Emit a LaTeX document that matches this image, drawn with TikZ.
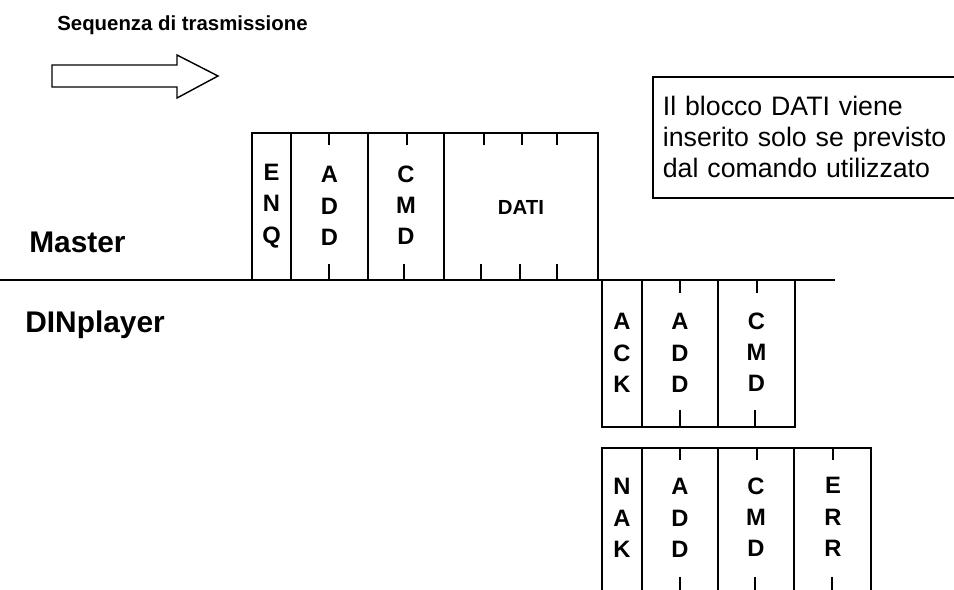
\documentclass[tikz,border=0pt]{standalone}
\usepackage{fontspec}
\setmainfont{Liberation Sans}
\usetikzlibrary{positioning}

\begin{document}
\begin{tikzpicture}[x=0.02cm,y=-0.02cm,
  fld/.style={line width=1.1pt},
  lett/.style={font=\bfseries\fontsize{13.5}{17.8}\selectfont,align=center,inner sep=0pt},
  side/.style={font=\bfseries\fontsize{17}{20}\selectfont,anchor=base west,inner sep=0pt},
  note/.style={draw,line width=1pt,anchor=north west,align=left,
    font=\fontsize{15.2}{17.6}\selectfont,text width=6cm,inner xsep=0.2cm,
    minimum height=2.42cm}
]
\clip (0,0) rectangle (954,589);

% direction of transmission
\node[anchor=base west,inner sep=0pt,font=\bfseries\fontsize{11.6}{14}\selectfont]
  (title) at (57,30) {Sequenza di trasmissione};
\draw[line width=0.8pt] (52,65) -- (177,65) -- (177,55) -- (218,76)
  -- (177,98) -- (177,87) -- (52,87) -- cycle;

% bus line between the two sides
\draw[fld] (0,280) -- (835,280);
\node[side] (master) at (29,252) {Master};
\node[side] (dinp) at (25,332) {DINplayer};

% master frame
\draw[fld] (252,133) rectangle (598,280);
\foreach \x in {291,368,444} \draw[fld] (\x,133) -- (\x,280);
\foreach \x in {329,407,484,522,557} \draw[fld] (\x,133) -- (\x,145);
\foreach \x in {329,404,481,520,557} \draw[fld] (\x,264) -- (\x,280);
\node[lett] (enq) at (271.5,206) {E\\N\\Q};
\node[lett] (add1) at (329.5,206) {A\\D\\D};
\node[lett] (cmd1) at (406,205) {C\\M\\D};
\node[lett,font=\bfseries\fontsize{11.6}{14}\selectfont] (dati) at (521,207) {DATI};

% answer: ACK
\draw[fld] (602,280) rectangle (795,427);
\foreach \x in {642,718} \draw[fld] (\x,280) -- (\x,427);
\foreach \x in {680,757} \draw[fld] (\x,280) -- (\x,293);
\foreach \x in {680,755} \draw[fld] (\x,410) -- (\x,427);
\node[lett] (ack) at (622,353) {A\\C\\K};
\node[lett] (add2) at (680,353) {A\\D\\D};
\node[lett] (cmd2) at (756.5,352) {C\\M\\D};

% answer: NAK
\draw[fld] (602,448) rectangle (871,594);
\foreach \x in {642,718,794} \draw[fld] (\x,448) -- (\x,594);
\foreach \x in {680,757,833} \draw[fld] (\x,448) -- (\x,460);
\foreach \x in {680,755,832} \draw[fld] (\x,577) -- (\x,594);
\node[lett] (nak) at (622,518) {N\\A\\K};
\node[lett] (add3) at (680,518) {A\\D\\D};
\node[lett] (cmd3) at (756,517) {C\\M\\D};
\node[lett] (err) at (833,517) {E\\R\\R};

\node[note] (info) at (652,76) {Il blocco DATI viene\\inserito solo se previsto\\dal comando utilizzato};
\end{tikzpicture}
\end{document}
